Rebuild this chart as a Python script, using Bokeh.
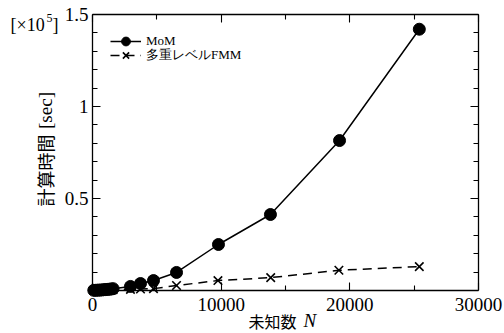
import math
from bokeh.plotting import figure
from bokeh.models import (LinearAxis, FixedTicker, Range1d, Label, Legend, LegendItem)
from bokeh.embed import file_html
from bokeh.resources import INLINE

# ---- data ----
n_mom = [100, 250, 400, 550, 700, 850, 1000, 1150, 1300, 1450, 1600,
         2950, 3730, 4740, 6530, 9790, 13830, 19200, 25400]
t_mom = [0.001, 0.001, 0.002, 0.002, 0.003, 0.004, 0.005, 0.006, 0.007, 0.008, 0.01,
         0.022, 0.038, 0.054, 0.098, 0.25, 0.413, 0.815, 1.42]
n_fmm = [100, 250, 400, 550, 700, 850, 1000, 1150, 1300, 1450, 1600,
         2950, 3730, 4740, 6530, 9750, 13850, 19150, 25400]
t_fmm = [0.0005, 0.001, 0.001, 0.001, 0.002, 0.002, 0.002, 0.003, 0.003, 0.003, 0.004,
         0.006, 0.008, 0.01, 0.027, 0.054, 0.07, 0.11, 0.13]

x_major = [0, 10000, 20000, 30000]
x_minor = [5000, 15000, 25000]
y_major = [0.5, 1.0, 1.5]
y_minor = [0.1, 0.2, 0.3, 0.4, 0.6, 0.7, 0.8, 0.9, 1.1, 1.2, 1.3, 1.4]
x_tick_labels = {0: "0", 10000: "10000", 20000: "20000", 30000: "30000"}
y_tick_labels = {0.5: "0.5", 1: "1", 1.5: "1.5"}
legend_labels = ["MoM", "多重レベルFMM"]
x_title_cjk = "未知数"
x_title_var = "N"
y_title_cjk = "計算時間"
y_title_unit = "[sec]"
scale_parts = ["[×10", "5", "]"]

X_MIN, X_MAX = 0, 30000
Y_MIN, Y_MAX = 0, 1.5

SERIF = "Liberation Serif"
CJK = "Noto Sans CJK JP"

# ---- geometry of the canvas (pixels) ----
W, H = 504, 333
FL, FR, FT, FB = 92, 478, 14, 290   # plot-box edges in canvas pixels
ux = (X_MAX - X_MIN) / (FR - FL)     # data per pixel
uy = (Y_MAX - Y_MIN) / (FB - FT)


def dx(px):
    return X_MIN + (px - FL) * ux


def dy(py):
    return Y_MIN + (FB - py) * uy


p = figure(width=W, height=H, output_backend="svg", toolbar_location=None,
           x_range=Range1d(dx(0), dx(W)), y_range=Range1d(dy(H), dy(0)),
           min_border=0, min_border_left=0, min_border_right=0,
           min_border_top=0, min_border_bottom=0,
           x_axis_location=None, y_axis_location=None)
p.grid.visible = False
p.outline_line_color = None
p.background_fill_color = "white"
p.border_fill_color = "white"


def make_axis(ticks, minor, labels, show_labels, loc, bounds):
    ax = LinearAxis(fixed_location=loc, bounds=bounds)
    ax.ticker = FixedTicker(ticks=ticks, minor_ticks=minor)
    ax.major_tick_in = 8
    ax.major_tick_out = 0
    ax.minor_tick_in = 5
    ax.minor_tick_out = 0
    ax.axis_line_color = "black"
    ax.axis_line_width = 1.3
    ax.major_tick_line_color = "black"
    ax.major_tick_line_width = 1.1
    ax.minor_tick_line_color = "black"
    ax.minor_tick_line_width = 1.1
    ax.major_label_text_font = SERIF
    ax.major_label_text_font_size = "19px"
    ax.major_label_text_color = "black"
    if show_labels:
        ax.major_label_overrides = labels
    else:
        ax.major_label_text_alpha = 0
    return ax


xb = make_axis(x_major, x_minor, x_tick_labels, True, Y_MIN, (X_MIN, X_MAX))
xb.major_label_standoff = 7
p.add_layout(xb, "below")
xt = make_axis(x_major, x_minor, x_tick_labels, False, Y_MAX, (X_MIN, X_MAX))
p.add_layout(xt, "above")
yl = make_axis(y_major, y_minor, y_tick_labels, True, X_MIN, (Y_MIN, Y_MAX))
yl.major_label_standoff = 4
p.add_layout(yl, "left")
yr = make_axis(y_major, y_minor, y_tick_labels, False, X_MAX, (Y_MIN, Y_MAX))
p.add_layout(yr, "right")

# ---- series ----
l1 = p.line(n_mom, t_mom, line_color="black", line_width=1.5)
s1 = p.scatter(n_mom, t_mom, marker="circle", size=12, fill_color="black", line_color="black")
l2 = p.line(n_fmm, t_fmm, line_color="black", line_width=1.5, line_dash="9 6")
s2 = p.scatter(n_fmm, t_fmm, marker="x", size=12, line_color="black", line_width=1.6)


def one_legend(label, renderers, row_center):
    gh = 22
    lg = Legend(items=[LegendItem(label=label, renderers=renderers)],
                location=(110, H - (row_center + gh // 2)))
    lg.border_line_color = None
    lg.background_fill_alpha = 0
    lg.margin = 0
    lg.padding = 0
    lg.spacing = 0
    lg.glyph_width = 31
    lg.glyph_height = gh
    lg.label_height = 12
    lg.label_standoff = 5
    lg.label_text_font = SERIF
    lg.label_text_font_size = "13px"
    lg.label_text_color = "black"
    lg.label_text_baseline = "middle"
    return lg


p.add_layout(one_legend(legend_labels[0], [l1, s1], 41))
p.add_layout(one_legend(legend_labels[1], [l2, s2], 55))

# ---- titles ----
p.add_layout(Label(x=dx(248), y=dy(320), text=x_title_cjk, text_font=CJK,
                   text_font_size="16px", text_baseline="middle", text_align="left",
                   text_color="black"))
p.add_layout(Label(x=dx(303), y=dy(320), text=x_title_var, text_font=SERIF,
                   text_font_style="italic", text_font_size="19px", text_baseline="middle",
                   text_align="left", text_color="black"))
p.add_layout(Label(x=dx(44), y=dy(170), text=y_title_cjk, text_font=CJK,
                   text_font_size="18px", text_baseline="middle", text_align="center",
                   angle=math.pi / 2, text_color="black"))
p.add_layout(Label(x=dx(45), y=dy(110), text=y_title_unit, text_font=SERIF,
                   text_font_size="19px", text_baseline="middle", text_align="center",
                   angle=math.pi / 2, text_color="black"))
p.add_layout(Label(x=dx(10), y=dy(24), text=scale_parts[0], text_font=SERIF,
                   text_font_size="18px", text_baseline="middle", text_align="left",
                   text_color="black"))
p.add_layout(Label(x=dx(46), y=dy(17), text=scale_parts[1], text_font=SERIF,
                   text_font_size="12px", text_baseline="middle", text_align="left",
                   text_color="black"))
p.add_layout(Label(x=dx(52), y=dy(24), text=scale_parts[2], text_font=SERIF,
                   text_font_size="18px", text_baseline="middle", text_align="left",
                   text_color="black"))

open("out.html", "w").write(file_html(p, INLINE))
